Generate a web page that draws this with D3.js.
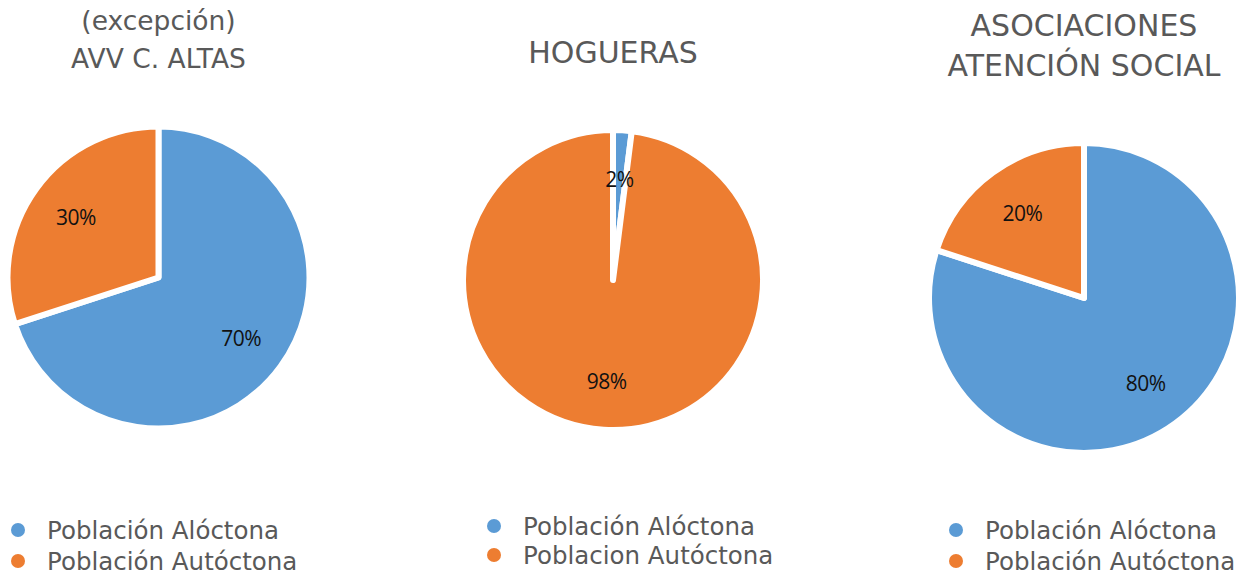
<!DOCTYPE html>
<html><head><meta charset="utf-8">
<script src="https://cdn.jsdelivr.net/npm/d3@7/dist/d3.min.js"></script>
<style>
html,body{margin:0;padding:0;background:#fff;}
svg{display:block;}
text{font-family:"DejaVu Sans","Noto Sans",sans-serif;}
</style></head>
<body>
<script>
// ---- data ----
const series = ["Población Alóctona", "Población Autóctona"];
const chartTitles = [["(excepción)", "AVV C. ALTAS"], ["HOGUERAS"], ["ASOCIACIONES", "ATENCIÓN SOCIAL"]];
const legendLabels = [
  ["Población Alóctona", "Población Autóctona"],
  ["Población Alóctona", "Poblacion Autóctona"],
  ["Población Alóctona", "Población Autóctona"]
];
const valuesAVV = [70, 30];
const valuesHogueras = [2, 98];
const valuesAsociaciones = [80, 20];
const colors = ["#5B9BD5", "#ED7D31"];

// ---- layout ----
const W = 1244, H = 576;
const svg = d3.select("body").append("svg").attr("width", W).attr("height", H);

const panels = [
  {values: valuesAVV, cx: 158.5, cy: 277.5, r: 148, titleY: [20, 58], titleSize: 26.5, legX: 18, legY: [530, 561]},
  {values: valuesHogueras, cx: 613, cy: 280, r: 147, titleY: [52], titleSize: 30, legX: 494, legY: [526, 555]},
  {values: valuesAsociaciones, cx: 1084, cy: 298, r: 152, titleY: [25, 65], titleSize: 30, legX: 956, legY: [530, 561]}
];

const color = d3.scaleOrdinal().domain(series).range(colors);
const pie = d3.pie().sort(null).value(d => d.value);

panels.forEach((p, i) => {
  const g = svg.append("g").attr("transform", `translate(${p.cx},${p.cy})`);
  const data = pie(series.map((s, k) => ({name: s, value: p.values[k]})));
  const arc = d3.arc().innerRadius(0).outerRadius(p.r + 3);
  const labelArc = d3.arc().innerRadius(p.r * 0.69).outerRadius(p.r * 0.69);

  g.selectAll("path").data(data).join("path")
    .attr("d", arc)
    .attr("fill", d => color(d.data.name))
    .attr("stroke", "#fff")
    .attr("stroke-width", 6)
    .attr("stroke-linejoin", "round");

  g.selectAll("text.lbl").data(data).join("text")
    .attr("class", "lbl")
    .attr("transform", d => `translate(${labelArc.centroid(d)})`)
    .attr("text-anchor", "middle")
    .attr("dominant-baseline", "central")
    .attr("font-size", 21)
    .attr("letter-spacing", -0.6)
    .attr("fill", "#111")
    .style("font-family", "'Open Sans', sans-serif")
    .text(d => d.data.value + "%");

  // title
  chartTitles[i].forEach((t, k) => {
    svg.append("text")
      .attr("x", p.cx).attr("y", p.titleY[k])
      .attr("text-anchor", "middle")
      .attr("dominant-baseline", "central")
      .attr("font-size", p.titleSize)
      .attr("fill", "#595959")
      .text(t);
  });

  // legend
  legendLabels[i].forEach((t, k) => {
    svg.append("circle")
      .attr("cx", p.legX).attr("cy", p.legY[k]).attr("r", 7)
      .attr("fill", colors[k]);
    svg.append("text")
      .attr("x", p.legX + 29).attr("y", p.legY[k])
      .attr("dominant-baseline", "central")
      .attr("font-size", 24.5)
      .attr("fill", "#595959")
      .text(t);
  });
});
</script>
</body></html>
